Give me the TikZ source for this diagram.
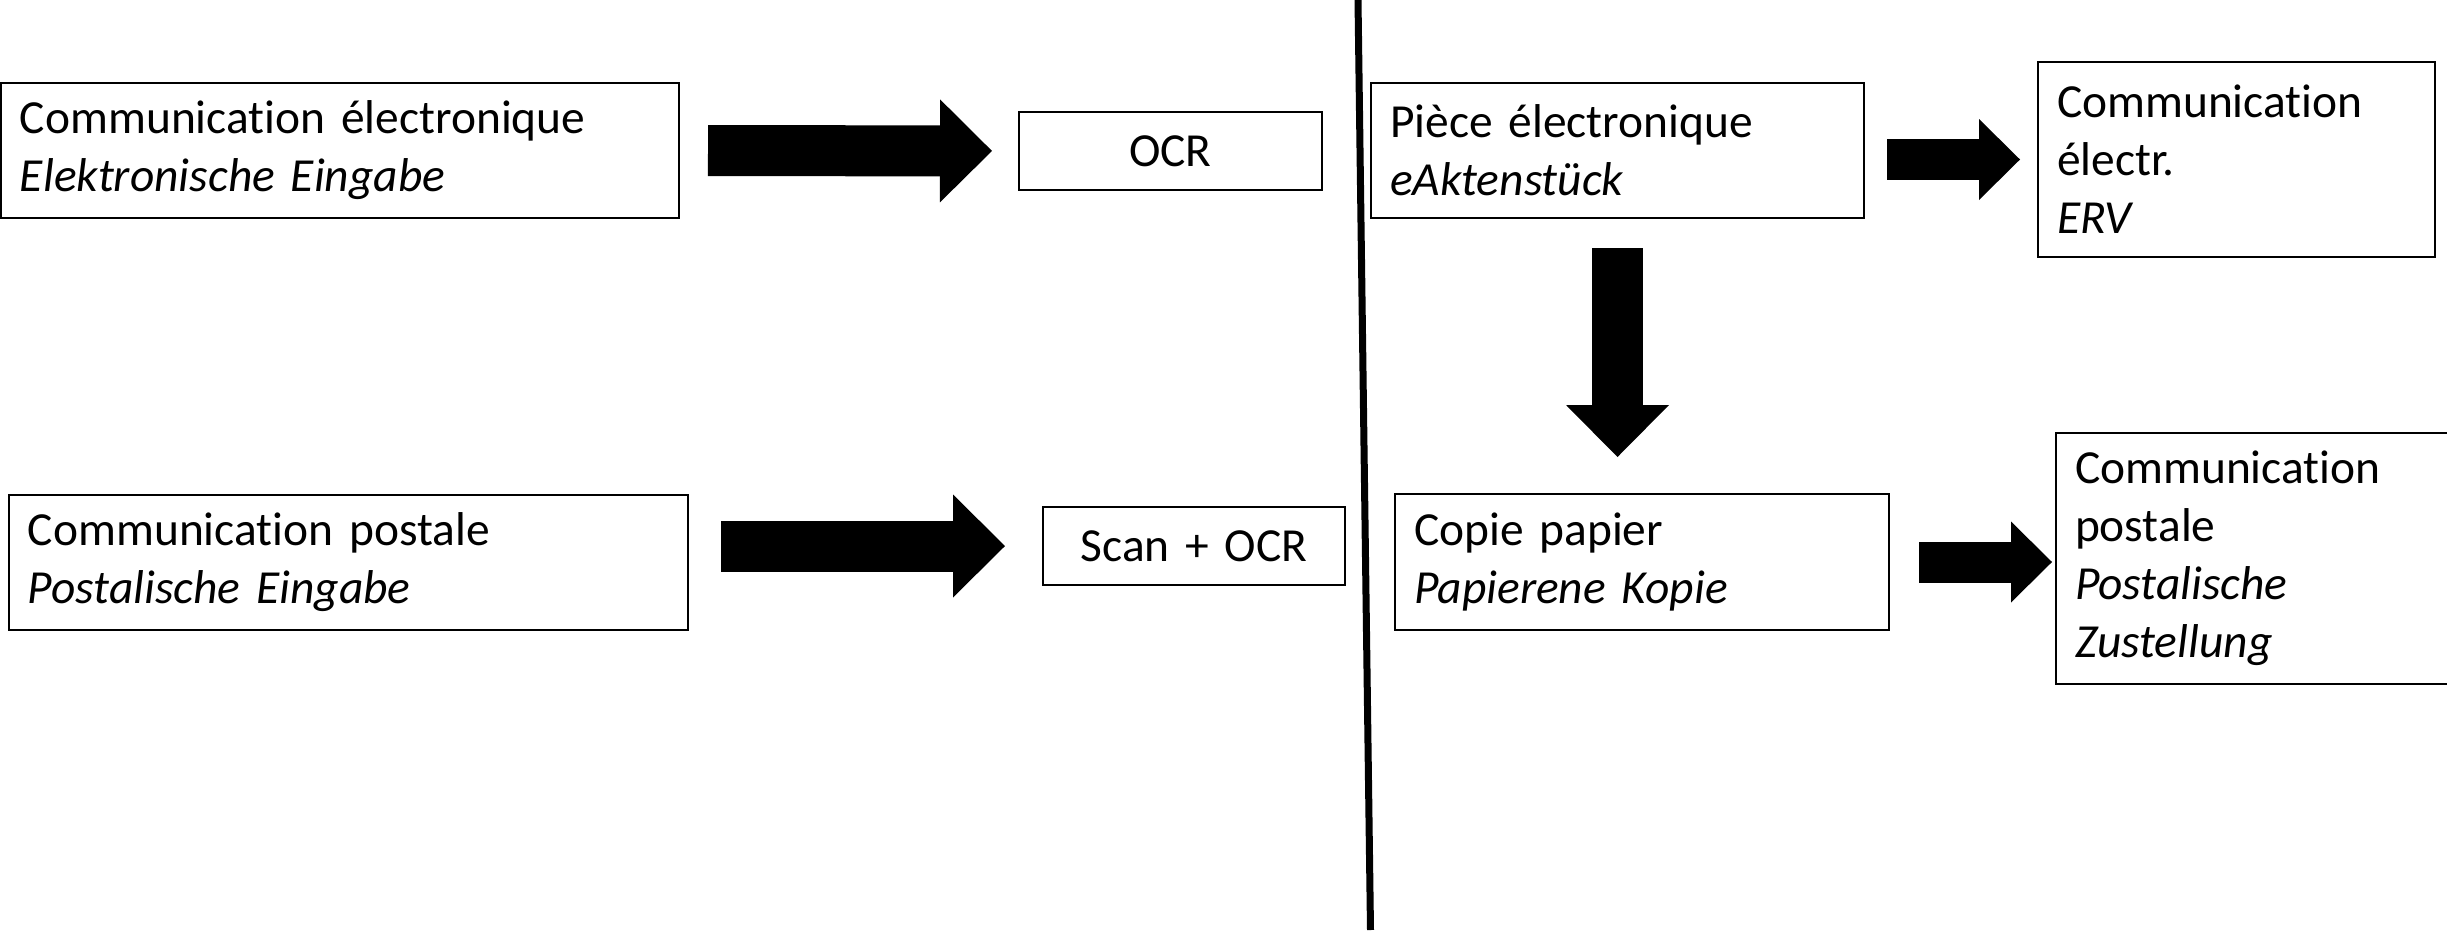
\documentclass[tikz,border=0pt]{standalone}
\usepackage{fontspec}
\setmainfont[Ligatures={NoCommon}]{Carlito}
\usetikzlibrary{arrows.meta}

\tikzset{
  box/.style={draw,line width=0.5pt,rectangle,anchor=north west,inner xsep=0.19cm,inner ysep=0pt,outer sep=0pt,align=left,font=\fontsize{13.5pt}{16.5pt}\selectfont},
  bigarrow/.style={line width=0.51cm,-{Triangle[length=0.52cm,width=1.03cm,line width=0pt]}},
  smallarrow/.style={line width=0.41cm,-{Triangle[length=0.41cm,width=0.81cm,line width=0pt]}}
}

\begin{document}
\begin{tikzpicture}
\useasboundingbox (0,0) rectangle (24.47,-9.32);

% input side
\node[box,text width=6.40cm,minimum height=1.35cm] (elec) at (0.01,-0.83) {Communication électronique\\\textit{Elektronische Eingabe}};
\node[box,align=center,text width=2.65cm,minimum height=0.78cm] (ocr) at (10.19,-1.12) {OCR};
\node[box,text width=6.41cm,minimum height=1.35cm] (post) at (0.09,-4.95) {Communication postale\\\textit{Postalische Eingabe}};
\node[box,align=center,text width=2.64cm,minimum height=0.78cm] (scan) at (10.43,-5.07) {Scan + OCR};

% output side
\node[box,text width=4.55cm,minimum height=1.35cm] (piece) at (13.71,-0.83) {Pièce électronique\\\textit{eAktenstück}};
\node[box,text width=3.59cm,minimum height=1.95cm] (erv) at (20.38,-0.62) {Communication\\électr.\\\textit{ERV}};
\node[box,text width=4.56cm,minimum height=1.36cm] (copie) at (13.95,-4.94) {Copie papier\\\textit{Papierene Kopie}};
\node[box,text width=3.62cm,minimum height=2.51cm] (zust) at (20.56,-4.33) {Communication\\postale\\\textit{Postalische}\\\textit{Zustellung}};

\draw[line width=0.07cm] (13.58,0) -- (13.705,-9.30);

\draw[bigarrow,shorten <=0.29cm,shorten >=0.27cm] (elec.east) -- (ocr.west);
\draw[bigarrow,shorten <=0.33cm,shorten >=0.38cm] (post.east |- scan.west) -- (scan.west);
\draw[smallarrow,shorten <=0.23cm,shorten >=0.18cm] (piece.east |- erv.west) -- (erv.west);
\draw[bigarrow,shorten <=0.30cm,shorten >=0.37cm] (piece.south) -- (piece.south |- copie.north);
\draw[smallarrow,shorten <=0.30cm,shorten >=0.04cm] (copie.east) -- (copie.east -| zust.west);

\end{tikzpicture}
\end{document}
